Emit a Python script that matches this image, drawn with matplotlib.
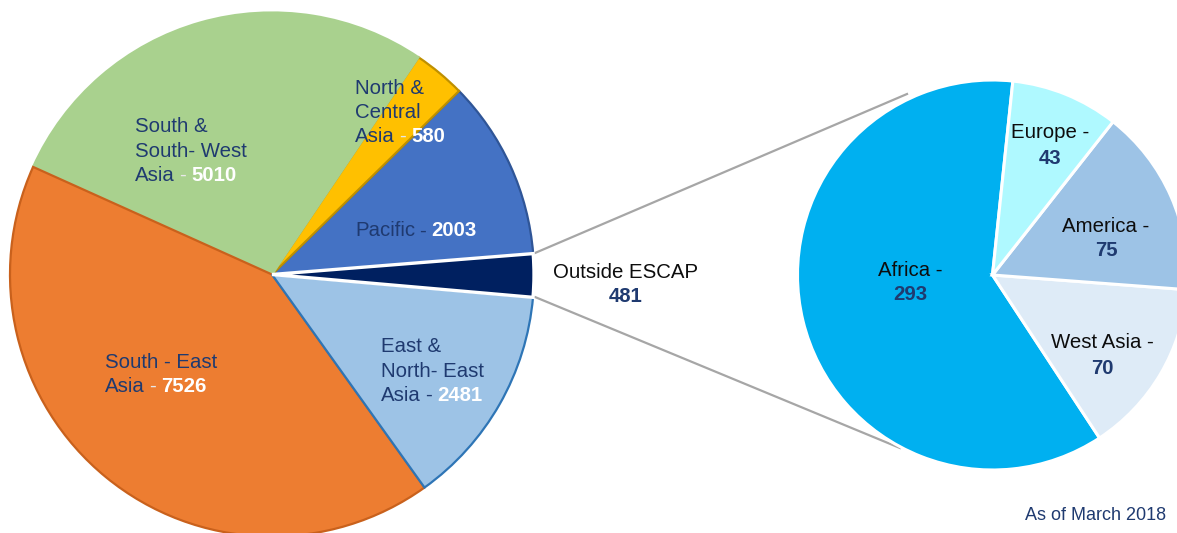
import matplotlib
matplotlib.use('Agg')
import matplotlib.pyplot as plt

plt.rcParams['font.family'] = ['Liberation Sans', 'DejaVu Sans']

# ---------------- data ----------------
left_regions = ['Outside ESCAP', 'Pacific', 'North & Central Asia',
                'South & South- West Asia', 'South - East Asia', 'East & North- East Asia']
left_values = [481, 2003, 580, 5010, 7526, 2481]
left_colors = ['#002060', '#4472C4', '#FFC000', '#A9D18E', '#ED7D31', '#9DC3E6']
left_edges = ['white', '#2F5597', '#BF9000', '#A9D18E', '#C9611C', '#2E75B6']

right_regions = ['Africa', 'West Asia', 'America', 'Europe']
right_values = [293, 70, 75, 43]
right_colors = ['#00B0F0', '#DEEBF7', '#9DC3E6', '#AFF9FF']

note = 'As of March 2018'

# ---------------- figure ----------------
W, H = 1177, 533
fig = plt.figure(figsize=(W / 100, H / 100), dpi=100)
ax = fig.add_axes([0, 0, 1, 1])


def Y(y):
    return H - y


NAVY = '#1F3A70'
FS = 14.7

# connector lines (behind pies)
ax.plot([535, 907], [Y(253), Y(94)], color='#A6A6A6', lw=1.6, zorder=0)
ax.plot([535, 900], [Y(297), Y(448)], color='#A6A6A6', lw=1.6, zorder=0)

lw, _ = ax.pie(left_values, colors=left_colors, startangle=-5, counterclock=True,
               center=(272, Y(274.5)), radius=262, wedgeprops=dict(linewidth=1.6))
for w, ec in zip(lw, left_edges):
    w.set_edgecolor(ec)
lw[0].set_zorder(5)
lw[0].set_linewidth(2.4)

rw, _ = ax.pie(right_values, colors=right_colors, startangle=84, counterclock=True,
               center=(992.5, Y(275)), radius=195,
               wedgeprops=dict(linewidth=2.2, edgecolor='white'))

ax.set_xlim(0, W)
ax.set_ylim(0, H)
ax.set_aspect('equal')
ax.axis('off')


# ---------------- left labels ----------------
def left_label(x, y0, lines, value, dash_color):
    step = 24.3
    for i, ln in enumerate(lines[:-1]):
        ax.text(x, Y(y0 + i * step), ln, ha='left', va='center', color=NAVY,
                fontsize=FS, zorder=10)
    yl = y0 + (len(lines) - 1) * step
    t = ax.text(x, Y(yl), lines[-1], ha='left', va='center', color=NAVY,
                fontsize=FS, zorder=10)
    a1 = ax.annotate('-', xy=(1, 0), xycoords=t, xytext=(3.2, 0),
                     textcoords='offset points', ha='left', va='bottom',
                     color=dash_color, fontsize=FS, zorder=10)
    ax.annotate(str(value), xy=(1, 0), xycoords=a1, xytext=(3.6, 0),
                textcoords='offset points', ha='left', va='bottom',
                color='white', fontsize=FS, fontweight='bold', zorder=10)


left_label(135, 127, ['South &', 'South- West', 'Asia'], left_values[3], '#E8E8E8')
left_label(355, 88, ['North &', 'Central', 'Asia'], left_values[2], '#E8E8E8')
left_label(355, 231, ['Pacific'], left_values[1], NAVY)
left_label(105, 362, ['South - East', 'Asia'], left_values[4], '#E8E8E8')
left_label(381, 347, ['East &', 'North- East', 'Asia'], left_values[5], NAVY)

# outside ESCAP label
ax.text(626, Y(272), left_regions[0], ha='center', va='center', color='#0D0D0D',
        fontsize=FS, zorder=10)
ax.text(626, Y(297), str(left_values[0]), ha='center', va='center', color=NAVY,
        fontsize=FS, fontweight='bold', zorder=10)

# ---------------- right labels ----------------
right_pos = [(910, 270), (1102, 343), (1106, 226), (1050, 133)]
for name, val, (px, py) in zip(right_regions, right_values, right_pos):
    ax.text(px, Y(py), name + ' -', ha='center', va='center', color='#0D0D0D',
            fontsize=FS, zorder=10)
    ax.text(px, Y(py + 25), str(val), ha='center', va='center', color=NAVY,
            fontsize=FS, fontweight='bold', zorder=10)

ax.text(1166, Y(515), note, ha='right', va='center', color=NAVY, fontsize=13, zorder=10)

fig.savefig('out.png', dpi=100)
